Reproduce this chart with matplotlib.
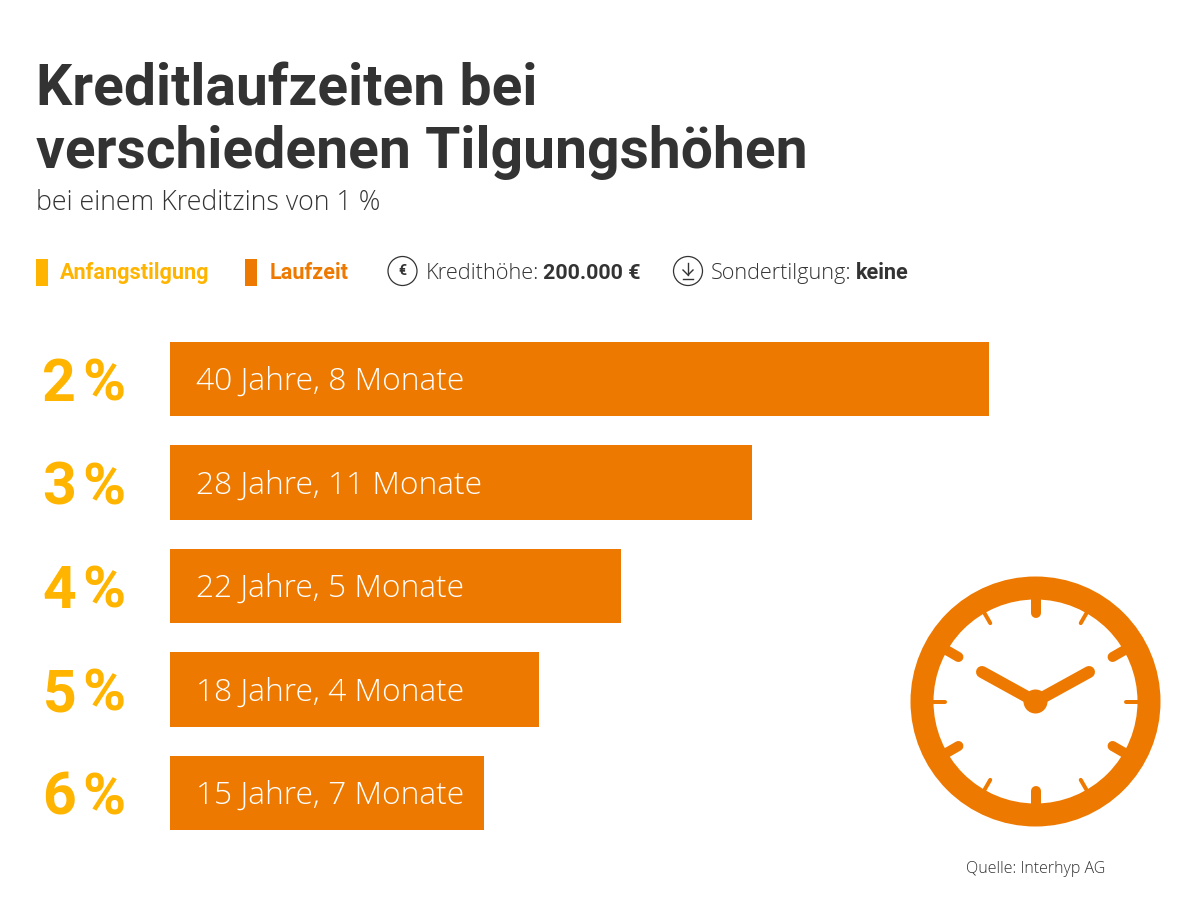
import numpy as np
import matplotlib
matplotlib.use("Agg")
import matplotlib.pyplot as plt
from matplotlib.patches import Circle, Rectangle

plt.rcParams['font.family'] = 'Roboto'

# 数据
tilgung = ["2", "3", "4", "5", "6"]
monate = [488, 347, 269, 220, 187]
labels = ["40 Jahre, 8 Monate", "28 Jahre, 11 Monate", "22 Jahre, 5 Monate",
          "18 Jahre, 4 Monate", "15 Jahre, 7 Monate"]

orange = "#EE7900"
gelb = "#FFB400"
dunkel = "#333333"
duenn = "Open Sans"

fig = plt.figure(figsize=(12, 9), dpi=100, facecolor="white")

# 整图像素坐标
bg = fig.add_axes([0, 0, 1, 1])
bg.set_xlim(0, 1200)
bg.set_ylim(900, 0)
bg.axis("off")

# 标题
bg.text(36, 105, "Kreditlaufzeiten bei", fontsize=41, fontweight="bold", color=dunkel, va="baseline")
bg.text(36, 168, "verschiedenen Tilgungshöhen", fontsize=41, fontweight="bold", color=dunkel, va="baseline")
bg.text(36, 210, "bei einem Kreditzins von 1 %", fontsize=19.3, family=duenn, fontweight="light", color=dunkel, va="baseline")

# 图例
bg.add_patch(Rectangle((36, 259), 12, 27, color=gelb, lw=0))
bg.text(60, 279, "Anfangstilgung", fontsize=15.6, fontweight="bold", color=gelb, va="baseline")
bg.add_patch(Rectangle((245, 259), 12, 27, color=orange, lw=0))
bg.text(270, 279, "Laufzeit", fontsize=15.6, fontweight="bold", color=orange, va="baseline")

bg.add_patch(Circle((402.5, 271), 14.5, fill=False, ec=dunkel, lw=0.9))
bg.text(402.5, 271, "€", fontsize=10, fontweight="bold", color=dunkel, ha="center", va="center")
bg.text(426, 279, "Kredithöhe:", fontsize=15.7, family=duenn, fontweight="light", color=dunkel, va="baseline")
bg.text(543, 279, "200.000 €", fontsize=15.4, fontweight="bold", color=dunkel, va="baseline")

bg.add_patch(Circle((688, 271), 14.5, fill=False, ec=dunkel, lw=0.9))
bg.plot([688, 688], [263, 275], color=dunkel, lw=1)
bg.plot([683, 688, 693], [270, 275, 270], color=dunkel, lw=1)
bg.plot([683, 693], [279, 279], color=dunkel, lw=1)
bg.text(711, 279, "Sondertilgung:", fontsize=15.6, family=duenn, fontweight="light", color=dunkel, va="baseline")
bg.text(856, 279, "keine", fontsize=15.6, fontweight="bold", color=dunkel, va="baseline")

# 条形图
ax = fig.add_axes([170 / 1200, 1 - 830 / 900, 819 / 1200, (830 - 342) / 900])
y = np.arange(len(monate))
ax.barh(y, monate, height=74 / 103.25, color=orange, lw=0)
ax.set_xlim(0, 488)
ax.set_ylim(len(monate) - 1 + 37 / 103.25, -37 / 103.25)
ax.axis("off")
for i in y:
    ax.annotate(labels[i], (15.5, i), xytext=(0, -2), textcoords="offset points",
                fontsize=22.9, family=duenn, fontweight="light", color="white", va="center")
    ax.annotate(tilgung[i], (0, i), xytext=(-67.5, 0), textcoords="offset points",
                fontsize=42.5, fontweight="bold", color=gelb, ha="right", va="center_baseline",
                annotation_clip=False)
    ax.annotate("%", (0, i), xytext=(-32, 0), textcoords="offset points",
                fontsize=42, fontweight="bold", color=gelb, ha="right", va="center_baseline",
                annotation_clip=False)

# 时钟
cx, cy = 1035.5, 701.5
bg.add_patch(Circle((cx, cy), 113.5, fill=False, ec=orange, lw=23 * 0.72))
bg.add_patch(Circle((cx, cy), 12, color=orange, lw=0))
for hx in [982, 1089]:
    bg.plot([cx, hx], [cy, 672], color=orange, lw=12 * 0.72, solid_capstyle="round")
for h in range(12):
    a = np.deg2rad(h * 30)
    r2, w = (84, 10) if h % 2 == 0 else (88.5, 4)
    bg.plot([cx + 103 * np.sin(a), cx + (r2 + w / 2) * np.sin(a)],
            [cy - 103 * np.cos(a), cy - (r2 + w / 2) * np.cos(a)],
            color=orange, lw=w * 0.72, solid_capstyle="round")

bg.text(966, 873, "Quelle: Interhyp AG", fontsize=11.5, family=duenn, fontweight="light", color=dunkel, va="baseline")

fig.savefig("out.png", dpi=100)
